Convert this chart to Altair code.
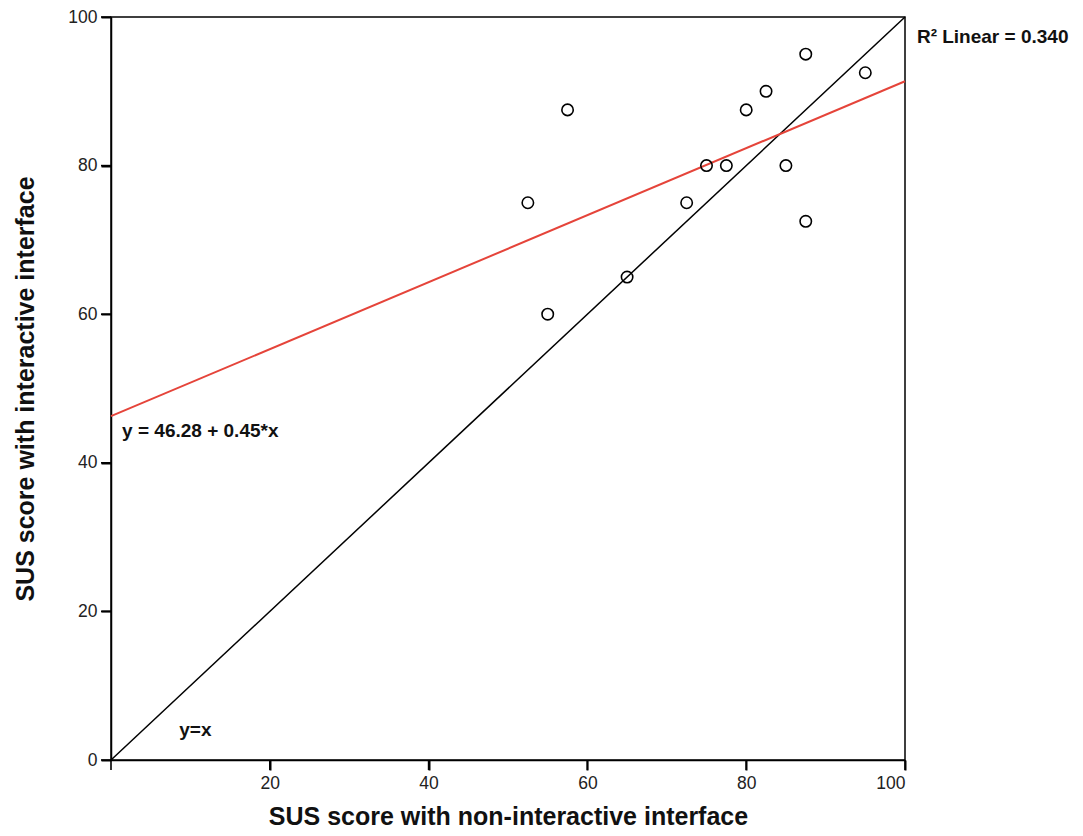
import altair as alt
import pandas as pd

non_interactive = [52.5, 55, 57.5, 65, 72.5, 75, 77.5, 80, 82.5, 85, 87.5, 87.5, 95]
interactive = [75, 60, 87.5, 65, 75, 80, 80, 87.5, 90, 80, 95, 72.5, 92.5]
identity_x = [0, 100]
identity_y = [0, 100]
x_ticks = [20, 40, 60, 80, 100]
y_ticks = [0, 20, 40, 60, 80, 100]
tick_marks = [0, 20, 40, 60, 80, 100]
notes_text = ["R² Linear = 0.340", "y = 46.28 + 0.45*x", "y=x"]
notes_x = [101.5, 1.4, 8.6]
notes_y = [97.3, 44.3, 4.0]

FONT = "Liberation Sans"
H = 743

pts = pd.DataFrame({"x": non_interactive, "y": interactive})
ident = pd.DataFrame({"x": identity_x, "y": identity_y})
notes = pd.DataFrame({"t": notes_text, "x": notes_x, "y": notes_y})
ticks_df = pd.DataFrame({"v": tick_marks})

xscale = alt.Scale(domain=[0, 100], nice=False, zero=False)
yscale = alt.Scale(domain=[0, 100], nice=False, zero=False)

xaxis = alt.Axis(values=x_ticks, title="SUS score with non-interactive interface",
                 titleY=56, titleBaseline="middle")
yaxis = alt.Axis(values=y_ticks, title="SUS score with interactive interface",
                 titleX=-86, titleBaseline="middle")

base_x = alt.X("x:Q", scale=xscale, axis=xaxis)
base_y = alt.Y("y:Q", scale=yscale, axis=yaxis)

identity_line = alt.Chart(ident).mark_line(color="black", strokeWidth=1.5).encode(x=base_x, y=base_y)

fit = alt.Chart(pts).transform_regression("x", "y", extent=[0, 100]).mark_line(
    color="#e5443a", strokeWidth=2).encode(x=base_x, y=base_y)

points = alt.Chart(pts).mark_point(shape="circle", filled=False, color="black",
                                   size=130, strokeWidth=1.6, opacity=1).encode(x=base_x, y=base_y)

labels = alt.Chart(notes).mark_text(align="left", baseline="middle", font=FONT,
                                    fontSize=19, fontWeight="bold", color="#111").encode(
    x=base_x, y=base_y, text="t:N")

xtick_marks = alt.Chart(ticks_df).mark_tick(orient="vertical", color="black", opacity=1,
                                            size=10, thickness=1.6).encode(
    x=alt.X("v:Q", scale=xscale, axis=xaxis), y=alt.value(H + 5))
ytick_marks = alt.Chart(ticks_df).mark_tick(orient="horizontal", color="black", opacity=1,
                                            size=10, thickness=1.6).encode(
    y=alt.Y("v:Q", scale=yscale, axis=yaxis), x=alt.value(-5))

chart = alt.layer(identity_line, fit, points, labels, xtick_marks, ytick_marks).properties(
    width=794, height=H,
    background="white",
    autosize=alt.AutoSizeParams(type="none"),
    padding={"left": 103, "top": 9, "right": 170, "bottom": 68},
).configure_view(stroke="black", strokeWidth=1.5).configure_axis(
    grid=False, ticks=True, domain=True, domainColor="black", domainWidth=1.5,
    tickColor="black", tickWidth=2, tickSize=10,
    labelFont=FONT, labelFontSize=17.5, labelColor="#222", labelPadding=4,
    titleFont=FONT, titleFontSize=25, titleFontWeight="bold", titleColor="#111",
)

chart.save("out.html", embed_options={"renderer": "svg", "actions": False})
